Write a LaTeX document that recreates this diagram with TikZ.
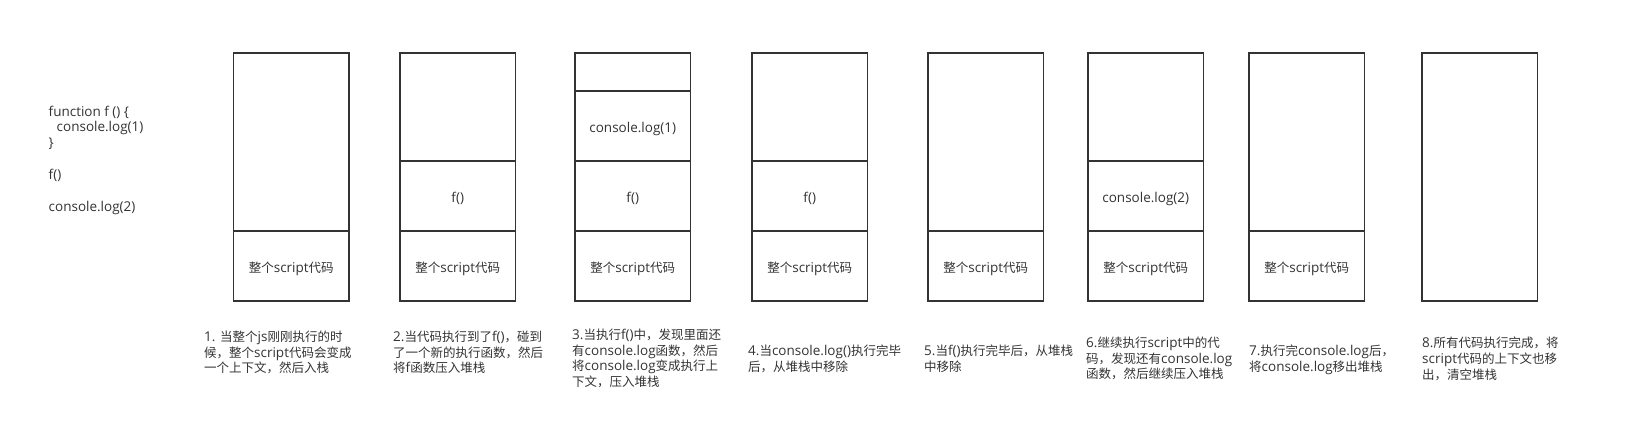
\documentclass[tikz,border=0pt]{standalone}
\usepackage{fontspec}
\setmainfont{Noto Sans CJK SC}
\newfontfamily\lat[Scale=1.08]{Open Sans}
\definecolor{ink}{HTML}{333333}
\newcommand{\lowtext}[1]{\raisebox{-2.75pt}[\height][\depth]{#1}}
\begin{document}
\begin{tikzpicture}[x=1pt,y=-1pt,
  every node/.style={text=ink,font=\fontsize{12.5}{15.6}\selectfont},
  cell/.style={draw=ink,line width=1.8pt,minimum width=115.5pt,inner sep=0pt,outer sep=0pt,anchor=north west},
  captext/.style={anchor=north west,align=left,inner sep=0pt},
  codeline/.style={anchor=base west,inner sep=0pt,font=\fontsize{12.5}{15.6}\selectfont\lat}]
\useasboundingbox (0,0) rectangle (1644,439);
% code
\node[codeline] (c1) at (48.5,116) {function f () \{};
\node[codeline] (c2) at (56.5,131.5) {console.log(1)};
\node[codeline] (c3) at (48.5,147) {\}};
\node[codeline] (c4) at (48.5,179) {f()};
\node[codeline] (c5) at (48.5,211.5) {console.log(2)};
% stack 1
\node[cell,minimum height=178pt] (s1a) at (233.5,53) {};
\node[cell,minimum height=70pt] (s1b) at (233.5,231) {\lowtext{整个{\lat script}代码}};
% stack 2
\node[cell,minimum height=108pt] (s2a) at (400,53) {};
\node[cell,minimum height=70pt] (s2b) at (400,161) {\lowtext{\lat f()}};
\node[cell,minimum height=70pt] (s2c) at (400,231) {\lowtext{整个{\lat script}代码}};
% stack 3
\node[cell,minimum height=38pt] (s3a) at (575,53) {};
\node[cell,minimum height=70pt] (s3b) at (575,91) {\lowtext{\lat console.log(1)}};
\node[cell,minimum height=70pt] (s3c) at (575,161) {\lowtext{\lat f()}};
\node[cell,minimum height=70pt] (s3d) at (575,231) {\lowtext{整个{\lat script}代码}};
% stack 4
\node[cell,minimum height=108pt] (s4a) at (752,53) {};
\node[cell,minimum height=70pt] (s4b) at (752,161) {\lowtext{\lat f()}};
\node[cell,minimum height=70pt] (s4c) at (752,231) {\lowtext{整个{\lat script}代码}};
% stack 5
\node[cell,minimum height=178pt] (s5a) at (928,53) {};
\node[cell,minimum height=70pt] (s5b) at (928,231) {\lowtext{整个{\lat script}代码}};
% stack 6
\node[cell,minimum height=108pt] (s6a) at (1088,53) {};
\node[cell,minimum height=70pt] (s6b) at (1088,161) {\lowtext{\lat console.log(2)}};
\node[cell,minimum height=70pt] (s6c) at (1088,231) {\lowtext{整个{\lat script}代码}};
% stack 7
\node[cell,minimum height=178pt] (s7a) at (1249,53) {};
\node[cell,minimum height=70pt] (s7b) at (1249,231) {\lowtext{整个{\lat script}代码}};
% stack 8
\node[cell,minimum height=248pt] (s8a) at (1422,53) {};
% captions
\node[captext] (t1) at (204,331) {{\lat 1. }当整个{\lat js}刚刚执行的时\\候，整个{\lat script}代码会变成\\一个上下文，然后入栈};
\node[captext] (t2) at (393,331) {{\lat 2.}当代码执行到了{\lat f()}，碰到\\了一个新的执行函数，然后\\将{\lat f}函数压入堆栈};
\node[captext] (t3) at (572,329) {{\lat 3.}当执行{\lat f()}中，发现里面还\\有{\lat console.log}函数，然后\\将{\lat console.log}变成执行上\\下文，压入堆栈};
\node[captext] (t4) at (748,345) {{\lat 4.}当{\lat console.log()}执行完毕\\后，从堆栈中移除};
\node[captext] (t5) at (924,345) {{\lat 5.}当{\lat f()}执行完毕后，从堆栈\\中移除};
\node[captext] (t6) at (1086,337) {{\lat 6.}继续执行{\lat script}中的代\\码，发现还有{\lat console.log}\\函数，然后继续压入堆栈};
\node[captext] (t7) at (1249,345) {{\lat 7.}执行完{\lat console.log}后，\\将{\lat console.log}移出堆栈};
\node[captext] (t8) at (1422,337) {{\lat 8.}所有代码执行完成，将\\{\lat script}代码的上下文也移\\出，清空堆栈};
\end{tikzpicture}
\end{document}
